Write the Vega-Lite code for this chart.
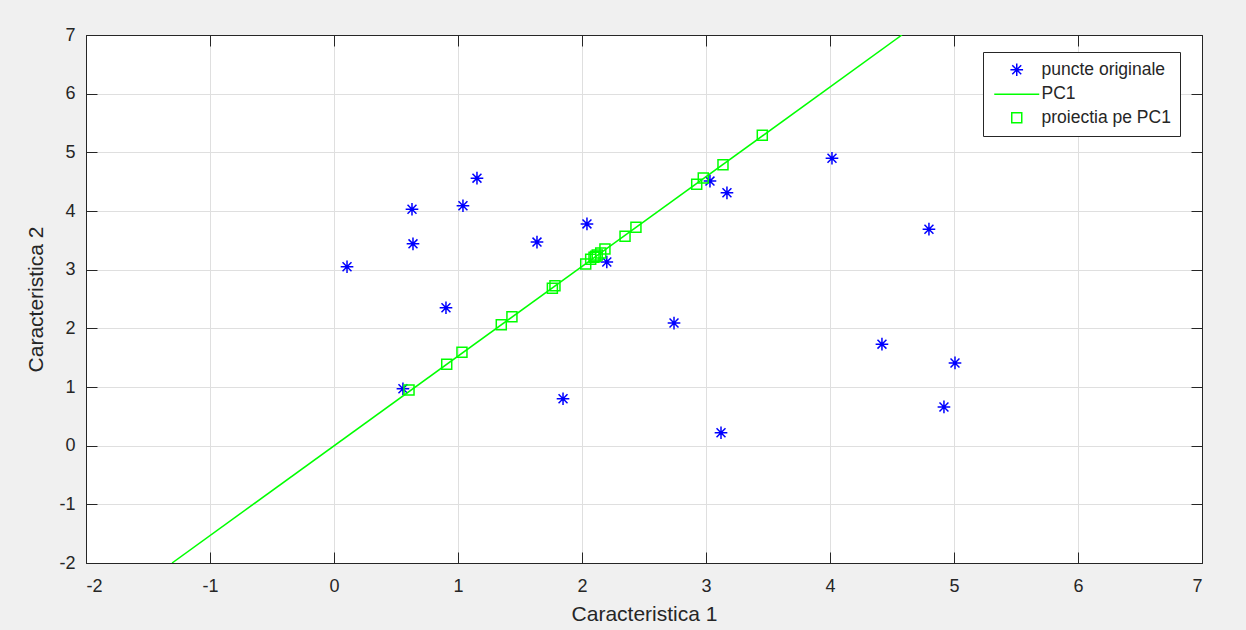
{
  "$schema": "https://vega.github.io/schema/vega-lite/v6.json",
  "width": 1116,
  "height": 528,
  "autosize": {"type": "none"},
  "padding": {"left": 86, "top": 35, "right": 44, "bottom": 67},
  "background": "#f0f0f0",
  "config": {
    "view": {"fill": "white", "stroke": "#262626", "strokeWidth": 1},
    "font": "Liberation Sans",
    "axis": {
      "labelFont": "Liberation Sans",
      "titleFont": "Liberation Sans",
      "labelFontSize": 18,
      "titleFontSize": 21,
      "titleFontWeight": "normal",
      "labelColor": "#262626",
      "titleColor": "#262626",
      "domainColor": "#262626",
      "tickColor": "#262626",
      "gridColor": "#dfdfdf",
      "gridOpacity": 1,
      "labelExpr": "replace(datum.label, '\u2212', '-')"
    }
  },
  "datasets": {
    "orig": [
      {"x": 0.105, "y": 3.05, "series": "puncte originale"},
      {"x": 0.629, "y": 4.03, "series": "puncte originale"},
      {"x": 0.637, "y": 3.44, "series": "puncte originale"},
      {"x": 0.903, "y": 2.35, "series": "puncte originale"},
      {"x": 1.04, "y": 4.09, "series": "puncte originale"},
      {"x": 1.153, "y": 4.56, "series": "puncte originale"},
      {"x": 0.556, "y": 0.97, "series": "puncte originale"},
      {"x": 1.637, "y": 3.47, "series": "puncte originale"},
      {"x": 2.04, "y": 3.78, "series": "puncte originale"},
      {"x": 2.2, "y": 3.13, "series": "puncte originale"},
      {"x": 1.847, "y": 0.8, "series": "puncte originale"},
      {"x": 2.742, "y": 2.09, "series": "puncte originale"},
      {"x": 3.032, "y": 4.51, "series": "puncte originale"},
      {"x": 3.169, "y": 4.31, "series": "puncte originale"},
      {"x": 3.121, "y": 0.22, "series": "puncte originale"},
      {"x": 4.016, "y": 4.9, "series": "puncte originale"},
      {"x": 4.798, "y": 3.69, "series": "puncte originale"},
      {"x": 4.419, "y": 1.73, "series": "puncte originale"},
      {"x": 5.008, "y": 1.41, "series": "puncte originale"},
      {"x": 4.919, "y": 0.66, "series": "puncte originale"}
    ],
    "pc": [
      {"x": -1.306, "y": -2, "series": "PC1"},
      {"x": 4.58, "y": 7, "series": "PC1"}
    ],
    "proj": [
      {"x": 0.605, "y": 0.949, "series": "proiectia pe PC1"},
      {"x": 0.909, "y": 1.387, "series": "proiectia pe PC1"},
      {"x": 1.032, "y": 1.592, "series": "proiectia pe PC1"},
      {"x": 1.349, "y": 2.062, "series": "proiectia pe PC1"},
      {"x": 1.435, "y": 2.199, "series": "proiectia pe PC1"},
      {"x": 1.761, "y": 2.683, "series": "proiectia pe PC1"},
      {"x": 1.782, "y": 2.727, "series": "proiectia pe PC1"},
      {"x": 2.03, "y": 3.097, "series": "proiectia pe PC1"},
      {"x": 2.07, "y": 3.177, "series": "proiectia pe PC1"},
      {"x": 2.097, "y": 3.211, "series": "proiectia pe PC1"},
      {"x": 2.11, "y": 3.23, "series": "proiectia pe PC1"},
      {"x": 2.123, "y": 3.25, "series": "proiectia pe PC1"},
      {"x": 2.151, "y": 3.284, "series": "proiectia pe PC1"},
      {"x": 2.185, "y": 3.352, "series": "proiectia pe PC1"},
      {"x": 2.347, "y": 3.569, "series": "proiectia pe PC1"},
      {"x": 2.435, "y": 3.722, "series": "proiectia pe PC1"},
      {"x": 2.925, "y": 4.455, "series": "proiectia pe PC1"},
      {"x": 2.978, "y": 4.563, "series": "proiectia pe PC1"},
      {"x": 3.137, "y": 4.79, "series": "proiectia pe PC1"},
      {"x": 3.454, "y": 5.29, "series": "proiectia pe PC1"}
    ]
  },
  "encoding": {
    "x": {"field": "x", "type": "quantitative", "scale": {"domain": [-2, 7], "nice": false, "zero": false}},
    "y": {"field": "y", "type": "quantitative", "scale": {"domain": [-2, 7], "nice": false, "zero": false}},
    "color": {
      "field": "series", "type": "nominal",
      "scale": {"domain": ["puncte originale", "PC1", "proiectia pe PC1"], "range": ["#0000ff", "#00ff00", "#00ff00"]},
      "legend": {
        "title": null,
        "orient": "none",
        "legendX": 897,
        "legendY": 17,
        "fillColor": "white",
        "strokeColor": "#262626",
        "padding": 9,
        "labelFont": "Liberation Sans",
        "labelFontSize": 17.5,
        "labelColor": "#262626",
        "symbolOffset": 16,
        "labelOffset": 16,
        "rowPadding": 4.5,
        "symbolStrokeWidth": 1.5,
        "symbolFillColor": "transparent",
        "symbolOpacity": 1
      }
    }
  },
  "layer": [
    {
      "data": {"name": "orig"},
      "mark": {"type": "point", "filled": false, "strokeWidth": 1.5, "opacity": 1, "clip": true},
      "encoding": {
        "x": {"field": "x", "type": "quantitative", "axis": {"values": [-2, -1, 0, 1, 2, 3, 4, 5, 6, 7], "title": "Caracteristica 1", "tickSize": -11, "labelPadding": 25, "titlePadding": 8, "grid": true, "domain": true}},
        "y": {"field": "y", "type": "quantitative", "axis": {"values": [-2, -1, 0, 1, 2, 3, 4, 5, 6, 7], "title": "Caracteristica 2", "tickSize": -11, "labelPadding": 22, "titlePadding": 12, "grid": true, "domain": true}},
        "shape": {
          "field": "series", "type": "nominal",
          "scale": {"domain": ["puncte originale", "PC1", "proiectia pe PC1"], "range": ["M-1,0L1,0M0,-1L0,1M-0.707,-0.707L0.707,0.707M-0.707,0.707L0.707,-0.707", "M-4.5,0L4.5,0", "square"]}
        },
        "size": {
          "field": "series", "type": "nominal",
          "scale": {"type": "ordinal", "domain": ["puncte originale", "PC1", "proiectia pe PC1"], "range": [160, 100, 100]}
        }
      }
    },
    {
      "data": {"name": "pc"},
      "mark": {"type": "line", "strokeWidth": 1.5, "clip": true},
      "encoding": {
        "x": {"field": "x", "type": "quantitative", "axis": {"orient": "top", "values": [-2, -1, 0, 1, 2, 3, 4, 5, 6, 7], "labels": false, "title": null, "tickSize": -11, "grid": false}},
        "y": {"field": "y", "type": "quantitative", "axis": {"orient": "right", "values": [-2, -1, 0, 1, 2, 3, 4, 5, 6, 7], "labels": false, "title": null, "tickSize": -11, "grid": false}}
      }
    },
    {
      "data": {"name": "proj"},
      "mark": {"type": "point", "filled": false, "strokeWidth": 1.5, "opacity": 1, "clip": true},
      "encoding": {
        "x": {"field": "x", "type": "quantitative", "axis": null},
        "y": {"field": "y", "type": "quantitative", "axis": null},
        "shape": {
          "field": "series", "type": "nominal",
          "scale": {"domain": ["puncte originale", "PC1", "proiectia pe PC1"], "range": ["M-1,0L1,0M0,-1L0,1M-0.707,-0.707L0.707,0.707M-0.707,0.707L0.707,-0.707", "M-4.5,0L4.5,0", "square"]}
        },
        "size": {
          "field": "series", "type": "nominal",
          "scale": {"type": "ordinal", "domain": ["puncte originale", "PC1", "proiectia pe PC1"], "range": [160, 100, 100]}
        }
      }
    }
  ],
  "resolve": {"axis": {"x": "independent", "y": "independent"}}
}
